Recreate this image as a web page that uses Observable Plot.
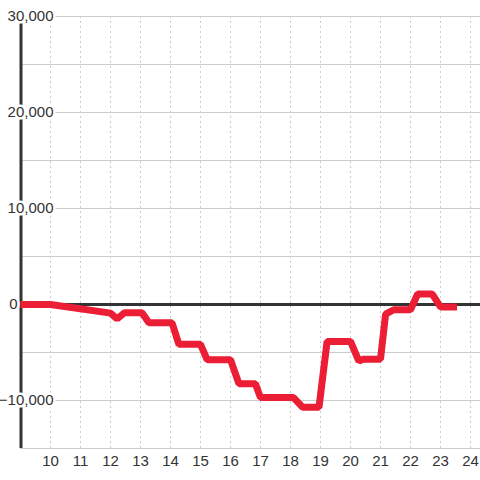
<!DOCTYPE html>
<html>
<head>
<meta charset="utf-8">
<script src="https://cdn.jsdelivr.net/npm/d3@7"></script>
<script src="https://cdn.jsdelivr.net/npm/@observablehq/plot@0.6"></script>
<style>
  html, body { margin: 0; padding: 0; background: #ffffff; }
  #chart { width: 480px; height: 480px; }
</style>
</head>
<body>
<div id="chart"></div>
<script>
// Hours of the day (decimal) and cumulative values
const hours = [9.0, 10.0, 12.0, 12.22, 12.47, 13.05, 13.28, 14.05, 14.28, 15.0, 15.22, 16.0, 16.28, 16.83, 17.0, 18.1, 18.4, 18.95, 19.22, 20.0, 20.28, 20.43, 21.0, 21.17, 21.44, 22.0, 22.24, 22.72, 23.0, 23.55];
const values = [0, 0, -900, -1500, -850, -850, -1900, -1900, -4150, -4150, -5750, -5750, -8250, -8250, -9700, -9700, -10700, -10700, -3850, -3850, -5900, -5700, -5700, -1000, -550, -550, 1100, 1100, -250, -250];

const xTicks = [10, 11, 12, 13, 14, 15, 16, 17, 18, 19, 20, 21, 22, 23, 24];
const yGrid = [-15000, -10000, -5000, 5000, 10000, 15000, 20000, 25000, 30000];
const yLabels = [30000, 20000, 10000, -10000];
const yZeroLabel = [0];

const data = hours.map((h, i) => ({ h, v: values[i] }));
const fmt = d3.format(",");
const red = "#ec1e35";
const ink = "#333333";

const chart = Plot.plot({
  width: 480,
  height: 480,
  marginLeft: 20,
  marginRight: 0,
  marginTop: 16,
  marginBottom: 32,
  style: { fontFamily: "'Liberation Sans', Arial, sans-serif", fontSize: "15px", background: "#ffffff", color: ink },
  x: { domain: [9, 24.333], axis: null },
  y: { domain: [-15000, 30000], axis: null },
  marks: [
    Plot.ruleY(yGrid, { stroke: "#cccccc", strokeWidth: 1 }),
    Plot.ruleX(xTicks, { stroke: "#cccccc", strokeWidth: 1, strokeDasharray: "2,3" }),
    Plot.ruleY([0], { stroke: ink, strokeWidth: 3 }),
    Plot.ruleX([9], { stroke: ink, strokeWidth: 3, dx: 0.5 }),
    Plot.text(yLabels, { x: () => 9, y: d => d, text: d => fmt(d), textAnchor: "end", dx: 33, fill: ink, stroke: "#ffffff", strokeWidth: 5, fontSize: 15 }),
    Plot.text(yZeroLabel, { x: () => 9, y: d => d, text: d => fmt(d), textAnchor: "end", dx: -3, fill: ink, stroke: "#ffffff", strokeWidth: 5, fontSize: 15 }),
    Plot.line(data, { x: "h", y: "v", stroke: red, strokeWidth: 7, strokeLinejoin: "miter", strokeLinecap: "butt" }),
    Plot.text(xTicks, { x: d => d, y: () => -15000, dy: 13, text: d => String(d), fill: ink, fontSize: 15 })
  ]
});
document.getElementById("chart").appendChild(chart);
</script>
</body>
</html>
